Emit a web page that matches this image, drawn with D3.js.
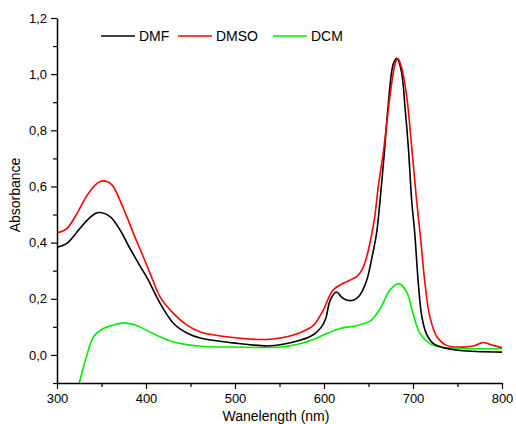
<!DOCTYPE html>
<html>
<head>
<meta charset="utf-8">
<script src="https://cdn.jsdelivr.net/npm/d3@7"></script>
<style>
  body { margin: 0; background: #fff; }
  text { font-family: Arial, "Liberation Sans", sans-serif; fill: #000; }
</style>
</head>
<body>
<div id="chart"></div>
<script>
// data
var dmfWl  = [300,311,322.5,334,343,349,360,371,382,394,402,416,431,446,461,498,536,554,573,588,597,602,607,614,620,626,633,640,648,654,659,663,668,672,678,682,687,691,695,698.5,702,706,710,715,723,734,753,800];
var dmfAbs = [0.383,0.397,0.438,0.480,0.504,0.507,0.492,0.444,0.379,0.313,0.270,0.183,0.112,0.078,0.060,0.043,0.032,0.038,0.052,0.072,0.099,0.130,0.195,0.224,0.205,0.195,0.195,0.212,0.266,0.349,0.432,0.551,0.729,0.884,1.038,1.056,1.010,0.884,0.729,0.551,0.432,0.254,0.135,0.076,0.040,0.026,0.016,0.010];

var dmsoWl  = [300,311,322.5,334,345,352,362,369,377,386,397,404,416,431,446,461,498,536,554,573,588,599,610,622,629,637,643,648,653,657,661,667,674,680,683,687,693,698.5,704,708,713.5,719,727,738,753,768,779,790,800];
var dmsoAbs = [0.435,0.450,0.504,0.569,0.611,0.620,0.605,0.563,0.504,0.432,0.349,0.295,0.206,0.147,0.106,0.082,0.062,0.055,0.062,0.079,0.105,0.159,0.230,0.256,0.266,0.280,0.305,0.350,0.420,0.492,0.600,0.729,0.919,1.038,1.056,1.026,0.919,0.741,0.551,0.432,0.254,0.135,0.064,0.034,0.028,0.032,0.044,0.034,0.026];

var dcmWl  = [325,333,341,352,363,375,390,408,431,461,498,551,573,588,603,618,637,652,663,674,684,693,700,708,719,730,800];
var dcmAbs = [-0.1,-0.007,0.064,0.094,0.106,0.114,0.104,0.076,0.046,0.031,0.028,0.028,0.040,0.055,0.076,0.094,0.105,0.121,0.165,0.230,0.254,0.224,0.147,0.076,0.040,0.028,0.022];

var seriesNames  = ["DMF", "DMSO", "DCM"];
var seriesColors = ["#000000", "#ff0000", "#00ee00"];
var xTicks = [300, 400, 500, 600, 700, 800];
var yTicks = [0, 0.2, 0.4, 0.6, 0.8, 1.0, 1.2];

var W = 516, H = 424;
var svg = d3.select("#chart").append("svg")
    .attr("width", W)
    .attr("height", H);

var x = d3.scaleLinear().domain([300, 800]).range([57, 502]);
var y = d3.scaleLinear().domain([-0.1, 1.2]).range([383, 18]);

svg.append("clipPath").attr("id", "clip")
  .append("rect")
    .attr("x", 57).attr("y", 18)
    .attr("width", 445).attr("height", 365);

var line = d3.line()
    .x(function(d) { return x(d[0]); })
    .y(function(d) { return y(d[1]); })
    .curve(d3.curveCatmullRom.alpha(0.5));

var allSeries = [
  d3.zip(dmfWl, dmfAbs),
  d3.zip(dmsoWl, dmsoAbs),
  d3.zip(dcmWl, dcmAbs)
];

// draw DCM first, then DMF, then DMSO on top like the original
var order = [2, 0, 1];
var plot = svg.append("g").attr("clip-path", "url(#clip)");
order.forEach(function(i) {
  plot.append("path")
      .datum(allSeries[i])
      .attr("fill", "none")
      .attr("stroke", seriesColors[i])
      .attr("stroke-width", 1.6)
      .attr("d", line);
});

var fmt = function(d) { return d3.format(".1f")(d).replace(".", ","); };

// minor ticks
svg.append("g")
    .attr("transform", "translate(0,383)")
    .call(d3.axisBottom(x).tickValues(d3.range(350, 800, 100)).tickSize(4).tickFormat(""))
    .call(function(g) { g.select(".domain").remove(); });
svg.append("g")
    .attr("transform", "translate(57,0)")
    .call(d3.axisLeft(y).tickValues([-0.1, 0.1, 0.3, 0.5, 0.7, 0.9, 1.1]).tickSize(4).tickFormat(""))
    .call(function(g) { g.select(".domain").remove(); });

// x axis
var xa = svg.append("g")
    .attr("transform", "translate(0,383)")
    .call(d3.axisBottom(x).tickValues(xTicks).tickSize(6).tickSizeOuter(0).tickPadding(5));
xa.selectAll("text").style("font-size", "13px");

// y axis
var ya = svg.append("g")
    .attr("transform", "translate(57,0)")
    .call(d3.axisLeft(y).tickValues(yTicks).tickFormat(fmt).tickSize(6).tickSizeOuter(0).tickPadding(4));
ya.selectAll("text").style("font-size", "13px");

svg.selectAll(".domain").attr("stroke-width", 1.5);
svg.selectAll(".tick line").attr("stroke-width", 1.2);

// axis titles
svg.append("text")
    .attr("x", 276).attr("y", 421)
    .attr("text-anchor", "middle")
    .style("font-size", "14px")
    .text("Wanelength (nm)");
svg.append("text")
    .attr("transform", "translate(20,195) rotate(-90)")
    .attr("text-anchor", "middle")
    .style("font-size", "14px")
    .text("Absorbance");

// legend
var legX = [101, 178, 273];
seriesNames.forEach(function(name, i) {
  svg.append("line")
      .attr("x1", legX[i]).attr("x2", legX[i] + 34)
      .attr("y1", 36).attr("y2", 36)
      .attr("stroke", seriesColors[i])
      .attr("stroke-width", 1.6);
  svg.append("text")
      .attr("x", legX[i] + 38).attr("y", 41)
      .style("font-size", "14px")
      .text(name);
});
</script>
</body>
</html>
